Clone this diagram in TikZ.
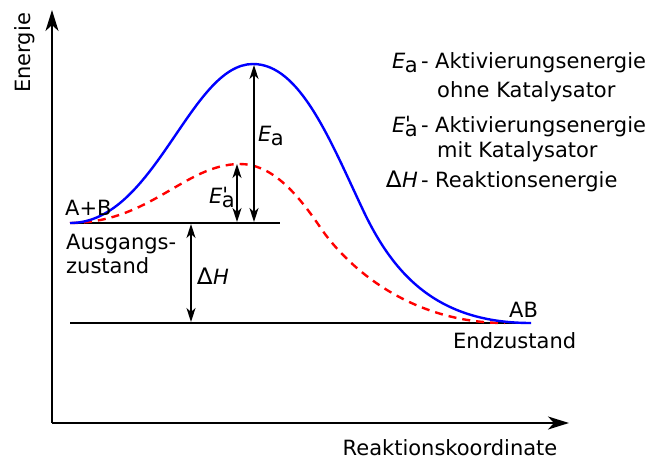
\documentclass[tikz,border=0pt]{standalone}
\usepackage{fontspec}
\setmainfont{DejaVu Sans}
\newfontfamily\symfont{DejaVu Sans}
\usetikzlibrary{arrows.meta}
\newcommand{\Ea}{{\itshape E}\kern-0.5pt\raisebox{-0.35ex}{a}}
\newcommand{\Eap}{{\itshape E}\kern-0.5pt\rlap{\raisebox{0.05ex}{\kern0.3pt\textquotesingle}}\raisebox{-0.35ex}{a}}
\newcommand{\dH}{{\symfont\fontsize{23}{23}\selectfont ∆}\kern0.5pt{\itshape H}}
\begin{document}
\begin{tikzpicture}[x=1pt,y=-1pt,
  every node/.style={font=\fontsize{21}{25}\selectfont, inner sep=0pt},
  axis/.style={line width=2pt,-{Stealth[length=21pt,width=13pt,inset=6pt]}},
  level/.style={line width=1.5pt},
  dim/.style={line width=1.4pt,{Stealth[length=14pt,width=9pt,inset=4pt]}-{Stealth[length=14pt,width=9pt,inset=4pt]}},
  uncat/.style={line width=2.4pt,blue},
  cat/.style={line width=2.4pt,red,dash pattern=on 8pt off 6pt}]
\useasboundingbox (0,0) rectangle (660,460);
% axes
\coordinate (O) at (52,423);
\coordinate (ytip) at (52,10);
\coordinate (xtip) at (569,423);
\draw[axis] (O) -- (ytip);
\draw[axis] (O) -- (xtip);
\node[rotate=90] (ylab) at (25,53) {Energie};
\node[anchor=base] (xlab) at (450,455) {Reaktionskoordinate};
% levels
\coordinate (r0) at (70,223);
\coordinate (r1) at (280,223);
\coordinate (p0) at (70,323);
\coordinate (p1) at (531,323);
\draw[level] (r0) -- (r1);
\draw[level] (p0) -- (p1);
% curves
\coordinate (topC) at (240,164);
\coordinate (midC) at (320,227);
\coordinate (endC) at (505,323);
\coordinate (topU) at (253,64);
\coordinate (midU) at (363,210);
\draw[cat] (r0) .. controls (150,223) and (185,164) .. (topC)
  .. controls (270,164) and (295,190) .. (midC)
  .. controls (347,267) and (410,323) .. (endC);
\draw[uncat] (r0) .. controls (155,223) and (190,64) .. (topU)
  .. controls (300,64) and (330,140) .. (midU)
  .. controls (395,278) and (440,323) .. (p1);
% dimension arrows
\coordinate (a1) at (254,65);
\coordinate (a2) at (254,222);
\coordinate (b1) at (237,164);
\coordinate (b2) at (237,222);
\coordinate (c1) at (191,224);
\coordinate (c2) at (191,322);
\draw[dim] (a1) -- (a2);
\draw[dim] (b1) -- (b2);
\draw[dim] (c1) -- (c2);
\node[anchor=base west] (lEa) at (258,141) {\Ea};
\node[anchor=base west] (lEap) at (209,203) {\Eap};
\node[anchor=base west] (ldH) at (197,284) {\dH};
% state labels
\node[anchor=base west] (AB1) at (65,215) {A+B};
\node[anchor=base west] (start1) at (66,249) {Ausgangs-};
\node[anchor=base west] (start2) at (66,273) {zustand};
\node[anchor=base west] (AB2) at (509,317) {AB};
\node[anchor=base west] (end) at (453,348) {Endzustand};
% legend
\node[anchor=base east] (g1) at (418,68) {\Ea};
\node[anchor=base] (h1) at (425,68) {-};
\node[anchor=base west] (g1b) at (435,68) {Aktivierungsenergie};
\node[anchor=base west] (g1c) at (437,97) {ohne Katalysator};
\node[anchor=base east] (g2) at (418,132) {\Eap};
\node[anchor=base] (h2) at (425,132) {-};
\node[anchor=base west] (g2b) at (435,132) {Aktivierungsenergie};
\node[anchor=base west] (g2c) at (437,157) {mit Katalysator};
\node[anchor=base east] (g3) at (418,187) {\dH};
\node[anchor=base] (h3) at (425,187) {-};
\node[anchor=base west] (g3b) at (435,187) {Reaktionsenergie};
\end{tikzpicture}
\end{document}
